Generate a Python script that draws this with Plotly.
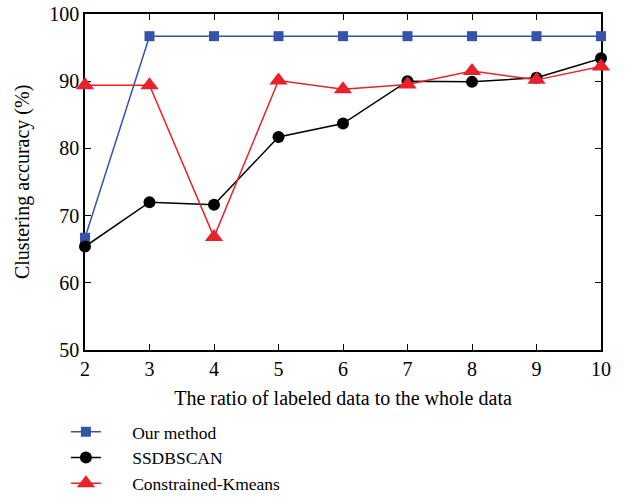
import plotly.graph_objects as go

x_vals = [2, 3, 4, 5, 6, 7, 8, 9, 10]
our_method = [66.7, 96.7, 96.7, 96.7, 96.7, 96.7, 96.7, 96.7, 96.7]
ssdbscan = [65.4, 72.0, 71.6, 81.7, 83.7, 90.0, 89.9, 90.5, 93.4]
constrained_kmeans = [89.4, 89.4, 66.8, 90.1, 88.8, 89.5, 91.5, 90.2, 92.2]
x_ticks = [2, 3, 4, 5, 6, 7, 8, 9, 10]
y_ticks = [50, 60, 70, 80, 90, 100]
series_names = ["Our method", "SSDBSCAN", "Constrained-Kmeans"]
x_title = "The ratio of labeled data to the whole data"
y_title = "Clustering accuracy (%)"

FONT = "Liberation Serif"
FS = 20
GAP = "\u00a0" * 6

fig = go.Figure()
fig.add_trace(go.Scatter(x=x_vals, y=our_method, name=GAP + series_names[0], mode="lines+markers",
                         cliponaxis=False,
                         line=dict(color="#3553A8", width=1.5),
                         marker=dict(symbol="square", size=10, color="#3553A8")))
fig.add_trace(go.Scatter(x=x_vals, y=ssdbscan, name=GAP + series_names[1], mode="lines+markers",
                         cliponaxis=False,
                         line=dict(color="black", width=1.5),
                         marker=dict(symbol="circle", size=12, color="black")))
fig.add_trace(go.Scatter(x=x_vals, y=constrained_kmeans, name=GAP + series_names[2], mode="lines+markers",
                         cliponaxis=False,
                         line=dict(color="#E8222A", width=1.5),
                         marker=dict(symbol="triangle-up", size=16, color="#E8222A")))

fig.update_layout(
    width=628, height=498,
    margin=dict(l=85, r=27, t=14, b=148, autoexpand=False),
    paper_bgcolor="white", plot_bgcolor="white",
    font=dict(family=FONT, size=FS, color="black"),
    showlegend=True,
    legend=dict(x=-0.037, y=-0.19, xanchor="left", yanchor="top", orientation="v",
                font=dict(family=FONT, size=17.5), bgcolor="rgba(0,0,0,0)", tracegroupgap=0),
    xaxis=dict(range=[2, 10], tickvals=x_ticks, showgrid=False, zeroline=False,
               showline=True, linecolor="black", linewidth=1.5, mirror="allticks",
               ticks="inside", ticklen=6, tickcolor="black", tickfont=dict(size=FS),
               layer="below traces",
               title=dict(text=x_title, standoff=12, font=dict(family=FONT, size=FS))),
    yaxis=dict(range=[50, 100], tickvals=y_ticks, showgrid=False, zeroline=False,
               showline=True, linecolor="black", linewidth=1.5, mirror="allticks",
               ticks="inside", ticklen=6, tickcolor="black", tickfont=dict(size=FS),
               layer="below traces"),
    annotations=[dict(text=y_title, textangle=-90, xref="paper", yref="paper",
                      x=-0.122, y=0.5, xanchor="center", yanchor="middle", showarrow=False,
                      font=dict(family=FONT, size=FS))],
)

fig.write_html("out.html")
